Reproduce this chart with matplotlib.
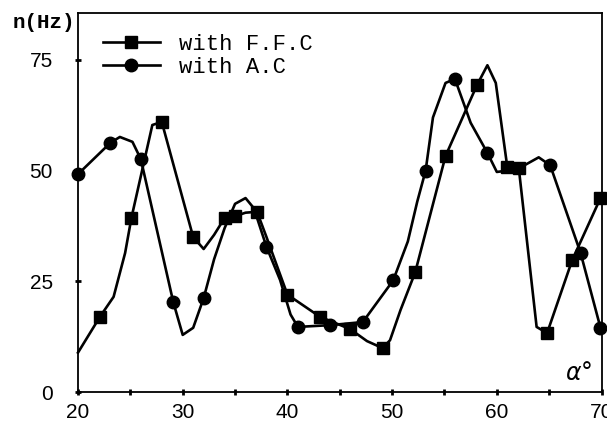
import numpy as np
import matplotlib.pyplot as plt

## data
# with F.F.C (squares), line path
ffc_x = [20, 22.1, 23.4, 24.5, 25.1, 27.1, 28.0, 31.0, 32.0, 33.0, 34.0, 35.0, 36.0, 37.1, 38.0,
         40.0, 43.1, 46.0, 47.6, 49.1, 49.8, 50.8, 52.2, 55.1, 58.1, 59.1, 59.9, 61.0, 62.1,
         63.8, 64.8, 67.2, 69.9]
ffc_y = [8.9, 17, 21.5, 31.4, 39.3, 60.3, 61, 35, 32.3, 35.5, 39.3, 39.7, 40.5, 40.7, 35,
         22, 17, 14.2, 11.5, 9.9, 11.7, 18.5, 27, 53.3, 69.3, 73.8, 69.8, 50.8, 50.5,
         14.7, 13.3, 29.8, 43.8]
ffc_marks = [22.1, 25.1, 28.0, 31.0, 34.0, 35.0, 37.1, 40.0, 43.1, 46.0, 49.1, 52.2, 55.1,
             58.1, 61.0, 62.1, 64.8, 67.2, 69.9]

# with A.C (circles), line path
ac_x = [20, 23.1, 24.0, 25.2, 26.0, 29.1, 30.0, 31.0, 32.0, 33.0, 34.0, 35.0, 36.0, 36.8,
        38.0, 39.3, 40.3, 41.0, 44.1, 47.2, 50.1, 51.5, 52.4, 53.2, 53.9, 55.1, 56.0, 57.5,
        59.1, 60.0, 61.0, 62.1, 64.0, 65.1, 68.0, 69.9]
ac_y = [49.2, 56.3, 57.6, 56.5, 52.6, 20.3, 12.9, 14.5, 21.2, 30, 37, 42.5, 43.8, 41.5,
        32.8, 25.3, 17.5, 14.7, 15.1, 15.8, 25.2, 34, 43, 50, 62, 69.8, 70.7, 60.8,
        54, 49.7, 50, 50.5, 53, 51.2, 31.4, 14.5]
ac_marks = [20, 23.1, 26.0, 29.1, 32.0, 38.0, 41.0, 44.1, 47.2, 50.1, 53.2, 56.0, 59.1,
            65.1, 68.0, 69.9]

xticks = [20, 25, 30, 35, 40, 45, 50, 55, 60, 65, 70]
xticklabels = ['20', '', '30', '', '40', '', '50', '', '60', '', '70']
yticks = [0, 25, 50, 75]

fig = plt.figure(figsize=(6.07, 4.26), dpi=100)
ax = fig.add_axes([0.1285, 0.0798, 0.8625, 0.8897])

ffc_idx = [ffc_x.index(v) for v in ffc_marks]
ac_idx = [ac_x.index(v) for v in ac_marks]

ax.plot(ffc_x, ffc_y, color='black', lw=1.9, marker='s', ms=8, markevery=ffc_idx,
        label='with F.F.C', clip_on=False)
ax.plot(ac_x, ac_y, color='black', lw=1.9, marker='o', ms=9, markevery=ac_idx,
        label='with A.C', clip_on=False)

ax.set_xlim(20, 70)
ax.set_ylim(0, 85.6)
ax.set_xticks(xticks)
ax.set_xticklabels(xticklabels)
ax.set_yticks(yticks)
for s in ax.spines.values():
    s.set_linewidth(1.3)
ax.tick_params(direction='inout', length=4, width=2, labelsize=15, color='black')
ax.tick_params(axis='x', pad=6)
ax.tick_params(axis='y', pad=16)
for lab in ax.get_xticklabels() + ax.get_yticklabels():
    lab.set_family('Liberation Sans')

ax.text(-0.065, 0.974, 'n(Hz)', transform=ax.transAxes, ha='center', va='center',
        family='Liberation Mono', fontweight='bold', fontsize=15)
ax.text(67.8, 4.2, r'$\alpha$°', ha='center', va='center', fontsize=17,
        bbox=dict(facecolor='white', edgecolor='none', pad=1))

leg = ax.legend(loc='upper left', bbox_to_anchor=(0.03, 0.968), frameon=False,
                prop={'family': 'Liberation Mono', 'size': 16}, handlelength=2.6,
                handletextpad=0.85, labelspacing=0.1, borderaxespad=0)

plt.savefig('out.png', dpi=100)
